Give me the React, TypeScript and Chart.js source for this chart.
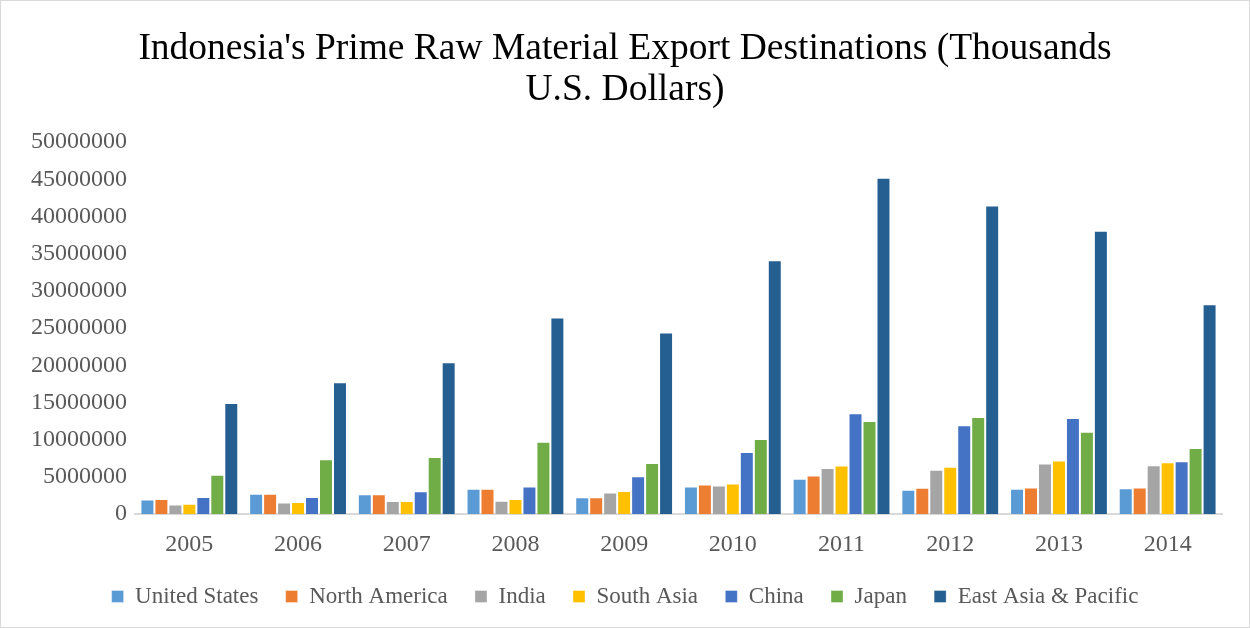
import React, { useEffect, useRef } from "react";
import { Chart, registerables } from "chart.js";

Chart.register(...registerables);

const years = ["2005", "2006", "2007", "2008", "2009", "2010", "2011", "2012", "2013", "2014"];

const unitedStates = [1960000, 2760000, 2670000, 3420000, 2270000, 3730000, 4760000, 3290000, 3420000, 3470000];
const northAmerica = [2040000, 2760000, 2670000, 3420000, 2270000, 4000000, 5200000, 3560000, 3600000, 3600000];
const india = [1290000, 1560000, 1780000, 1820000, 2930000, 3870000, 6220000, 5960000, 6800000, 6580000];
const southAsia = [1420000, 1640000, 1780000, 2040000, 3110000, 4130000, 6530000, 6360000, 7200000, 6980000];
const china = [2310000, 2310000, 3070000, 3730000, 5110000, 8360000, 13560000, 11960000, 12930000, 7110000];
const japan = [5290000, 7380000, 7690000, 9730000, 6890000, 10090000, 12530000, 13070000, 11070000, 8890000];
const eastAsiaPacific = [14930000, 17730000, 20400000, 26440000, 24400000, 34130000, 45200000, 41470000, 38090000, 28220000];

const seriesNames = ["United States", "North America", "India", "South Asia", "China", "Japan", "East Asia & Pacific"];
const seriesColors = ["#5b9bd5", "#ed7d31", "#a5a5a5", "#ffc000", "#4472c4", "#70ad47", "#255e91"];
const seriesValues = [unitedStates, northAmerica, india, southAsia, china, japan, eastAsiaPacific];

const titleLines = ["Indonesia's Prime Raw Material Export Destinations (Thousands", "U.S. Dollars)"];

const FONT = "'Liberation Serif', 'Times New Roman', serif";

export default function App() {
  const ref = useRef<HTMLCanvasElement | null>(null);

  useEffect(() => {
    document.body.style.margin = "0";
    if (!ref.current) return;
    const chart = new Chart(ref.current, {
      type: "bar",
      data: {
        labels: years,
        datasets: seriesNames.map((name, i) => ({
          label: name,
          data: seriesValues[i],
          backgroundColor: seriesColors[i],
          borderColor: "rgba(255,255,255,0.35)",
          borderWidth: 1,
          categoryPercentage: 0.9,
          barPercentage: 1.0,
          yAxisID: "y",
        })),
      },
      options: {
        animation: false,
        responsive: false,
        maintainAspectRatio: false,
        layout: { padding: { left: 0, right: 0, top: 0, bottom: 9 } },
        plugins: {
          title: {
            display: true,
            text: titleLines,
            color: "#000000",
            font: { family: FONT, size: 37.5, weight: "normal", lineHeight: 1.08 },
            padding: { top: 28, bottom: 32 },
          },
          legend: {
            position: "bottom",
            labels: {
              color: "#595959",
              font: { family: FONT, size: 23 },
              boxWidth: 12,
              boxHeight: 12,
              padding: 10,
              generateLabels: (c: any) => {
                const items = Chart.defaults.plugins.legend.labels.generateLabels(c);
                return items.map((it: any, i: number) => ({
                  ...it,
                  text: i < items.length - 1 ? it.text + "   " : it.text,
                }));
              },
            },
          },
          tooltip: { enabled: false },
        },
        scales: {
          x: {
            grid: { display: false, drawTicks: false },
            border: { display: true, color: "#d9d9d9", width: 2 },
            ticks: { color: "#595959", font: { family: FONT, size: 24 }, padding: 16 },
          },
          y: {
            min: 0,
            max: 50000000,
            grid: { display: false, drawTicks: false },
            border: { display: false },
            afterFit: (scale: any) => {
              scale.width = 134;
            },
            ticks: {
              stepSize: 5000000,
              color: "#595959",
              font: { family: FONT, size: 24 },
              padding: 8,
              callback: (v: any) => String(v),
            },
          },
          yRight: {
            type: "linear",
            position: "right",
            display: true,
            grid: { display: false, drawTicks: false },
            border: { display: false },
            ticks: { display: false },
            afterFit: (scale: any) => {
              scale.width = 27;
            },
          },
        },
      },
    });
    return () => chart.destroy();
  }, []);

  return (
    <div style={{ width: 1250, height: 628, boxSizing: "border-box", border: "1px solid #d9d9d9", background: "#fff" }}>
      <canvas ref={ref} width={1248} height={626} style={{ display: "block" }} />
    </div>
  );
}
